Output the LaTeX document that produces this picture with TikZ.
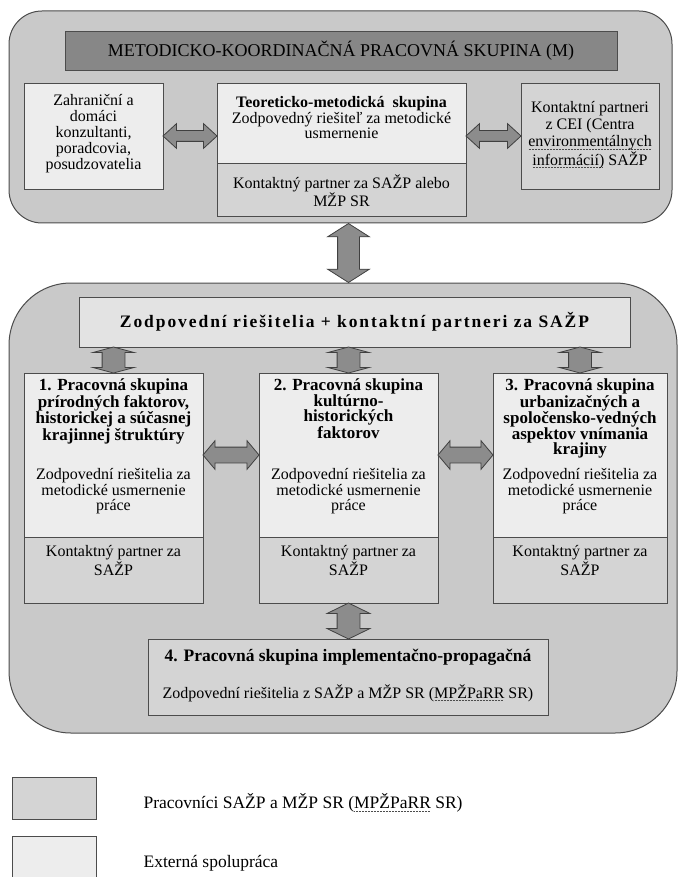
\documentclass[tikz,border=0pt]{standalone}
\usepackage{fontspec}
\setmainfont{Liberation Serif}
\newfontfamily\spacedbf[LetterSpace=11]{Liberation Serif}
\usetikzlibrary{positioning,calc,shapes.arrows}
\newcommand\dotul[1]{\setbox0\hbox{#1}\rlap{\raisebox{-2.5pt}{\hbox to \wd0{\color{black!70}\leaders\hbox to 1.5pt{\hss\rule{0.8pt}{0.6pt}\hss}\hfill}}}\box0\relax}

\begin{document}
\begin{tikzpicture}[x=1pt,y=-1pt,
    panel/.style={draw=black!70, fill=black!21, line width=1pt},
    lightbox/.style={draw=black!70, fill=black!7, line width=0.9pt},
    darkbox/.style={draw=black!70, fill=black!17, line width=0.9pt},
    txt/.style={inner sep=0pt, align=center, font=\fontsize{16}{16}\selectfont},
    bold/.style={inner sep=0pt, align=center, font=\fontsize{17}{15.5}\selectfont\bfseries},
    dblarrow/.style={double arrow, draw=black!75, fill=black!45, line width=0.8pt, inner xsep=0pt, minimum width=0pt}]
        \useasboundingbox (0,0) rectangle (679,877);

        \node[panel, rounded corners=33pt, minimum width=663pt, minimum height=212pt] (mpanel) at (340.5,117) {};
        \node[draw=black!70, fill=black!47, line width=0.9pt, minimum width=552pt, minimum height=39pt, font=\fontsize{18}{18}\selectfont] (mtitle) at (341,50.5) {METODICKO-KOORDINAČNÁ PRACOVNÁ SKUPINA (M)};

        \node[lightbox, minimum width=139pt, minimum height=106pt] (zahr) at (93.5,136) {};
        \node[txt, below=12pt of zahr.north] (zahrtxt) {Zahraniční a\\domáci\\konzultanti,\\poradcovia,\\posudzovatelia};

        \node[lightbox, minimum width=249pt, minimum height=80pt] (teor) at (341.5,123) {};
        \node[txt, font=\fontsize{16}{14}\selectfont, below=14pt of teor.north] (teortxt) {\textbf{Teoreticko-metodická\ \ skupina}\\Zodpovedný riešiteľ za metodické\\usmernenie};
        \node[darkbox, minimum width=249pt, minimum height=53pt] (teorc) at (341.5,189.5) {};
        \node[txt, below=12pt of teorc.north] (teorctxt) {Kontaktný partner za SAŽP alebo\\MŽP SR};

        \node[darkbox, minimum width=138pt, minimum height=106pt] (cei) at (590,136) {};
        \node[txt, font=\fontsize{16}{17}\selectfont, below=19pt of cei.north] (ceitxt) {Kontaktní partneri\\z CEI (Centra\\\dotul{environmentálnych}\\\dotul{informácií)} SAŽP};

        \node[dblarrow, inner ysep=5pt, double arrow head extend=7pt, minimum height=54pt, double arrow tip angle=85] (arrz) at ($(zahr.east)!.5!(zahr.east -| teor.west)$) {};
        \node[dblarrow, inner ysep=5pt, double arrow head extend=7pt, minimum height=55pt, double arrow tip angle=85] (arrc) at ($(cei.west)!.5!(cei.west -| teor.east)$) {};

        \node[panel, rounded corners=62pt, minimum width=668pt, minimum height=450pt] (wpanel) at (343,508) {};
        \node[draw=black!70, fill=black!11, line width=0.9pt, minimum width=551pt, minimum height=50pt, font=\spacedbf\fontsize{17.5}{17.5}\selectfont\bfseries] (bar) at (354.5,322) {Zodpovední riešitelia + kontaktní partneri za SAŽP};

        \node[lightbox, minimum width=179pt, minimum height=164pt] (g1top) at (113.5,455) {};
        \node[darkbox, minimum width=179pt, minimum height=66pt] (g1bot) at (113.5,570) {};
        \node[bold, below=6pt of g1top.north] (g1ttl) {1. Pracovná skupina\\prírodných faktorov,\\historickej a súčasnej\\krajinnej štruktúry};
        \node[txt, font=\fontsize{16}{15.5}\selectfont, below=96pt of g1top.north] (g1txt) {Zodpovední riešitelia za\\metodické usmernenie\\práce};
        \node[txt, font=\fontsize{16}{17}\selectfont, below=9pt of g1bot.north] (g1kon) {Kontaktný partner za\\SAŽP};

        \node[lightbox, minimum width=179pt, minimum height=164pt] (g2top) at (348.5,455) {};
        \node[darkbox, minimum width=179pt, minimum height=66pt] (g2bot) at (348.5,570) {};
        \node[bold, below=6pt of g2top.north] (g2ttl) {2. Pracovná skupina\\kultúrno-\\historických\\faktorov};
        \node[txt, font=\fontsize{16}{15.5}\selectfont, below=96pt of g2top.north] (g2txt) {Zodpovední riešitelia za\\metodické usmernenie\\práce};
        \node[txt, font=\fontsize{16}{17}\selectfont, below=9pt of g2bot.north] (g2kon) {Kontaktný partner za\\SAŽP};

        \node[lightbox, minimum width=174pt, minimum height=164pt] (g3top) at (580,455) {};
        \node[darkbox, minimum width=174pt, minimum height=66pt] (g3bot) at (580,570) {};
        \node[bold, below=6pt of g3top.north] (g3ttl) {3. Pracovná skupina\\urbanizačných a\\spoločensko-vedných\\aspektov vnímania\\krajiny};
        \node[txt, font=\fontsize{16}{15.5}\selectfont, below=96pt of g3top.north] (g3txt) {Zodpovední riešitelia za\\metodické usmernenie\\práce};
        \node[txt, font=\fontsize{16}{17}\selectfont, below=9pt of g3bot.north] (g3kon) {Kontaktný partner za\\SAŽP};

        \node[darkbox, minimum width=400pt, minimum height=76pt] (g4) at (348,677) {};
        \node[bold, font=\fontsize{17.5}{17.5}\selectfont\bfseries, below=10pt of g4.north] (g4ttl) {4. Pracovná skupina implementačno-propagačná};
        \node[txt, below=46pt of g4.north] (g4txt) {Zodpovední riešitelia z SAŽP a MŽP SR (\dotul{MPŽPaRR} SR)};

        \node[dblarrow, rotate=90, inner ysep=10.5pt, double arrow head extend=10pt, minimum height=59pt, double arrow tip angle=115] (arrm) at ($(mpanel.south -| g2top)!.5!(wpanel.north -| g2top)$) {};
        \node[dblarrow, rotate=90, inner ysep=11pt, double arrow head extend=9pt, minimum height=26pt, double arrow tip angle=150] (arr1) at ($(bar.south -| g1top)!.5!(g1top.north)$) {};
        \node[dblarrow, rotate=90, inner ysep=11pt, double arrow head extend=9pt, minimum height=26pt, double arrow tip angle=150] (arr2) at ($(bar.south -| g2top)!.5!(g2top.north)$) {};
        \node[dblarrow, rotate=90, inner ysep=11pt, double arrow head extend=9pt, minimum height=26pt, double arrow tip angle=150] (arr3) at ($(bar.south -| g3top)!.5!(g3top.north)$) {};
        \node[dblarrow, inner ysep=7.5pt, double arrow head extend=6.5pt, minimum height=56pt, double arrow tip angle=100] (arr12) at ($(g1top.east)!.5!(g2top.west)$) {};
        \node[dblarrow, inner ysep=7.5pt, double arrow head extend=6.5pt, minimum height=55pt, double arrow tip angle=100] (arr23) at ($(g2top.east)!.5!(g3top.west)$) {};
        \node[dblarrow, rotate=90, inner ysep=11pt, double arrow head extend=10pt, minimum height=36pt, double arrow tip angle=128] (arr24) at ($(g2bot.south)!.5!(g2bot.south |- g4.north)$) {};

        \node[darkbox, minimum width=84pt, minimum height=42pt] (leg1) at (54,798) {};
        \node[txt, font=\fontsize{17.5}{17.5}\selectfont, anchor=west] (leg1txt) at ($(leg1.east)+(47,5)$) {Pracovníci SAŽP a MŽP SR (\dotul{MPŽPaRR} SR)};
        \node[lightbox, minimum width=84pt, minimum height=42pt] (leg2) at (54,857) {};
        \node[txt, font=\fontsize{17.5}{17.5}\selectfont, anchor=west] (leg2txt) at ($(leg2.east)+(47,6)$) {Externá spolupráca};
    \end{tikzpicture}
\end{document}
